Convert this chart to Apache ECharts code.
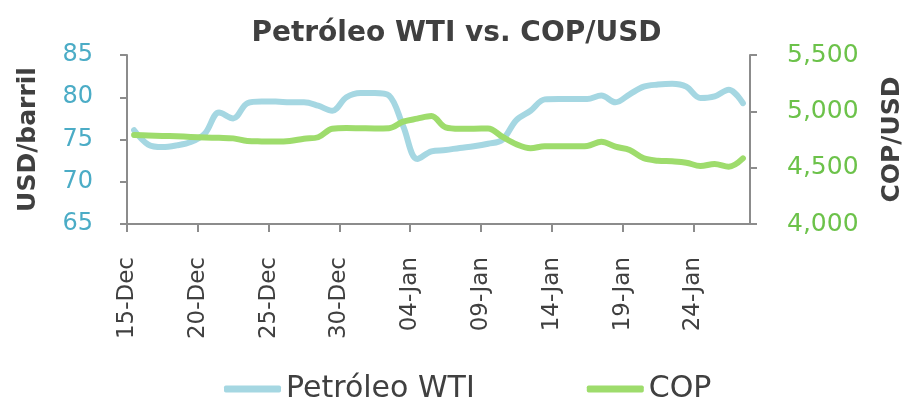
<!DOCTYPE html>
<html>
<head>
<meta charset="utf-8">
<script src="https://cdn.jsdelivr.net/npm/echarts@6/dist/echarts.min.js"></script>
<style>
  html, body { margin: 0; padding: 0; background: #fff; }
  #chart { width: 913px; height: 401px; }
</style>
</head>
<body>
<div id="chart"></div>
<script>
// one entry per calendar day, 15-Dec .. 27-Jan
const days = [
  '15-Dec', '16-Dec', '17-Dec', '18-Dec', '19-Dec', '20-Dec', '21-Dec', '22-Dec', '23-Dec', '24-Dec',
  '25-Dec', '26-Dec', '27-Dec', '28-Dec', '29-Dec', '30-Dec', '31-Dec', '01-Jan', '02-Jan', '03-Jan',
  '04-Jan', '05-Jan', '06-Jan', '07-Jan', '08-Jan', '09-Jan', '10-Jan', '11-Jan', '12-Jan', '13-Jan',
  '14-Jan', '15-Jan', '16-Jan', '17-Jan', '18-Jan', '19-Jan', '20-Jan', '21-Jan', '22-Jan', '23-Jan',
  '24-Jan', '25-Jan', '26-Jan', '27-Jan'
]

const wti = [
  76.1, 74.4, 74.1, 74.3, 74.7, 75.7, 78.2, 77.5, 79.3, 79.5,
  79.5, 79.4, 79.4, 79.0, 78.4, 80.0, 80.5, 80.5, 80.2, 76.6,
  72.7, 73.6, 73.75, 74.0, 74.2, 74.5, 74.95, 77.3, 78.4, 79.75,
  79.8, 79.8, 79.8, 80.2, 79.4, 80.35, 81.25, 81.5, 81.6, 81.25,
  79.9, 80.1, 80.9, 79.3
]

const cop = [
  4790, 4785, 4782, 4778, 4773, 4768, 4765, 4760, 4737, 4733,
  4732, 4737, 4757, 4770, 4846, 4852, 4850, 4848, 4850, 4908,
  4935, 4958, 4858, 4846, 4846, 4848, 4775, 4707, 4672, 4690,
  4690, 4690, 4693, 4731, 4686, 4657, 4583, 4562, 4556, 4544,
  4515, 4533, 4509, 4583
]

const leftTicks = { min: 65, max: 85, step: 5 }
const rightTicks = { min: 4000, max: 5500, step: 500 }

const FONT = 'DejaVu Sans'
const AXIS_GRAY = '#8c8c8c'
const TEXT = '#404040'

// each day sits in the middle of its own slot on the date axis
const toPoints = (values) => values.map((v, i) => [i + 0.5, v])

const chart = echarts.init(document.getElementById('chart'), null, { renderer: 'canvas' })

chart.setOption({
  animation: false,
  textStyle: { fontFamily: FONT },
  title: {
    text: 'Petróleo WTI vs. COP/USD',
    left: 'center',
    top: 15,
    textStyle: { fontFamily: FONT, fontSize: 28, fontWeight: 'bold', color: TEXT },
  },
  legend: {
    left: 219,
    top: 369,
    icon: 'roundRect',
    itemWidth: 57,
    itemHeight: 7,
    itemGap: 112,
    textStyle: { fontFamily: FONT, fontSize: 30, color: TEXT },
  },
  grid: { left: 127, right: 162, top: 55, bottom: 177 },
  xAxis: {
    type: 'value',
    min: 0,
    max: days.length,
    interval: 5,
    splitLine: { show: false },
    axisLine: { lineStyle: { color: AXIS_GRAY, width: 2 } },
    axisTick: { show: true, length: 8, lineStyle: { color: AXIS_GRAY, width: 2 } },
    axisLabel: {
      rotate: 90,
      margin: 33,
      fontSize: 23,
      color: TEXT,
      showMaxLabel: false,
      formatter: (v) => days[v] ?? '',
    },
  },
  yAxis: [
    {
      type: 'value',
      position: 'left',
      min: leftTicks.min,
      max: leftTicks.max,
      interval: leftTicks.step,
      name: 'USD/barril',
      nameLocation: 'middle',
      nameRotate: 90,
      nameGap: 86,
      nameTextStyle: { fontFamily: FONT, fontSize: 25, fontWeight: 'bold', color: TEXT },
      splitLine: { show: false },
      axisLine: { show: true, lineStyle: { color: AXIS_GRAY, width: 2 } },
      axisTick: { show: true, length: 7, lineStyle: { color: AXIS_GRAY, width: 2 } },
      axisLabel: { margin: 34, fontSize: 24, color: '#4bacc6' },
    },
    {
      type: 'value',
      position: 'right',
      min: rightTicks.min,
      max: rightTicks.max,
      interval: rightTicks.step,
      name: 'COP/USD',
      nameLocation: 'middle',
      nameRotate: 90,
      nameGap: 130,
      nameTextStyle: { fontFamily: FONT, fontSize: 25, fontWeight: 'bold', color: TEXT },
      splitLine: { show: false },
      axisLine: { show: true, lineStyle: { color: AXIS_GRAY, width: 2 } },
      axisTick: { show: true, length: 7, lineStyle: { color: AXIS_GRAY, width: 2 } },
      axisLabel: {
        margin: 37,
        fontSize: 25,
        color: '#6cc24a',
        formatter: (v) => v.toLocaleString('en-US'),
      },
    },
  ],
  series: [
    {
      name: 'Petróleo WTI',
      type: 'line',
      yAxisIndex: 0,
      smooth: 0.35,
      showSymbol: false,
      color: '#a5d7e2',
      lineStyle: { width: 6, cap: 'round', join: 'round' },
      data: toPoints(wti),
    },
    {
      name: 'COP',
      type: 'line',
      yAxisIndex: 1,
      smooth: 0.35,
      showSymbol: false,
      color: '#9edc6c',
      lineStyle: { width: 6, cap: 'round', join: 'round' },
      data: toPoints(cop),
    },
  ],
})
</script>
</body>
</html>
